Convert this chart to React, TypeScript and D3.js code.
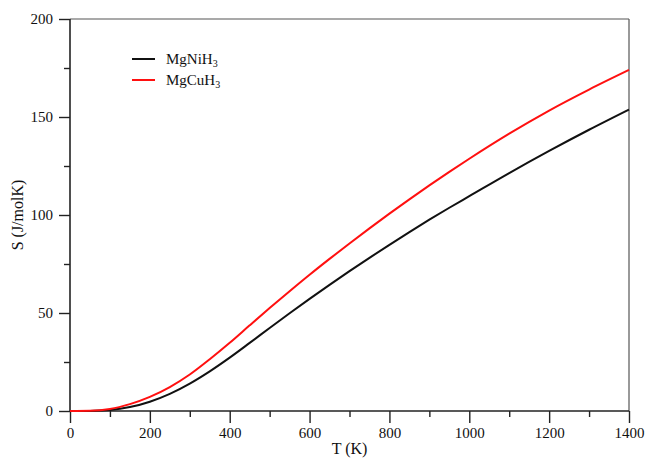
import React, { useEffect, useRef } from 'react';
import * as d3 from 'd3';

// temperatures (K) and entropies (J/molK)
const temps = [0, 50, 100, 150, 200, 250, 300, 350, 400, 450, 500, 550, 600, 650, 700, 750, 800, 850, 900, 950, 1000, 1100, 1200, 1300, 1400];
const sMgNiH3 = [0, 0.05, 0.5, 2.0, 4.75, 8.75, 14.0, 20.25, 27.25, 34.75, 42.35, 49.85, 57.2, 64.35, 71.35, 78.15, 84.8, 91.3, 97.6, 103.7, 109.6, 121.4, 132.7, 143.5, 153.8];
const sMgCuH3 = [0, 0.1, 1.0, 3.5, 7.2, 12.2, 18.6, 26.4, 34.8, 43.7, 52.5, 61.1, 69.5, 77.6, 85.5, 93.2, 100.7, 108, 115.1, 122, 128.7, 141.5, 153.3, 164, 174];

const xMajor = [0, 200, 400, 600, 800, 1000, 1200, 1400];
const xMinor = [100, 300, 500, 700, 900, 1100, 1300];
const yMajor = [0, 50, 100, 150, 200];
const yMinor = [25, 75, 125, 175];

const series = [
  { name: 'MgNiH', sub: '3', values: sMgNiH3, color: '#111111' },
  { name: 'MgCuH', sub: '3', values: sMgCuH3, color: '#ff1010' },
];

export default function App() {
  const ref = useRef<SVGSVGElement>(null);

  useEffect(() => {
    const width = 648;
    const height = 458;
    const margin = { top: 19, left: 70, right: 19, bottom: 47 };
    const svg = d3.select(ref.current);
    svg.selectAll('*').remove();

    const x = d3.scaleLinear().domain([0, 1400]).range([margin.left, width - margin.right]);
    const y = d3.scaleLinear().domain([0, 200]).range([height - margin.bottom, margin.top]);
    const font = '"Liberation Serif", "Times New Roman", serif';

    // frame (top / right)
    svg.append('line')
      .attr('x1', x(0)).attr('x2', x(1400)).attr('y1', y(200)).attr('y2', y(200))
      .attr('stroke', '#555').attr('stroke-width', 1.2);
    svg.append('line')
      .attr('x1', x(1400)).attr('x2', x(1400)).attr('y1', y(200)).attr('y2', y(0))
      .attr('stroke', '#555').attr('stroke-width', 1.2);

    const styleAxis = (g: any) => {
      g.select('.domain').remove();
      g.selectAll('line').attr('stroke', '#222').attr('stroke-width', 1.4);
      g.selectAll('text').attr('font-family', font).attr('font-size', 15).attr('fill', '#111');
    };

    svg.append('g')
      .attr('transform', `translate(0,${y(0)})`)
      .call(d3.axisBottom(x).tickValues(xMajor).tickSize(12).tickPadding(4).tickFormat(d3.format('d')))
      .call(styleAxis);
    svg.append('g')
      .attr('transform', `translate(0,${y(0)})`)
      .call(d3.axisBottom(x).tickValues(xMinor).tickSize(6).tickFormat(() => ''))
      .call(styleAxis);
    svg.append('g')
      .attr('transform', `translate(${x(0)},0)`)
      .call(d3.axisLeft(y).tickValues(yMajor).tickSize(11).tickPadding(6).tickFormat(d3.format('d')))
      .call(styleAxis);
    svg.append('g')
      .attr('transform', `translate(${x(0)},0)`)
      .call(d3.axisLeft(y).tickValues(yMinor).tickSize(6).tickFormat(() => ''))
      .call(styleAxis);

    // axis lines
    svg.append('line')
      .attr('x1', x(0)).attr('x2', x(1400)).attr('y1', y(0)).attr('y2', y(0))
      .attr('stroke', '#222').attr('stroke-width', 1.6);
    svg.append('line')
      .attr('x1', x(0)).attr('x2', x(0)).attr('y1', y(0)).attr('y2', y(200))
      .attr('stroke', '#222').attr('stroke-width', 1.6);

    const line = d3.line<number>()
      .x((d, i) => x(temps[i]))
      .y((d) => y(d))
      .curve(d3.curveMonotoneX);

    series.forEach((s) => {
      svg.append('path')
        .datum(s.values)
        .attr('d', line)
        .attr('fill', 'none')
        .attr('stroke', s.color)
        .attr('stroke-width', 2);
    });

    // legend
    const legend = svg.append('g').attr('transform', 'translate(132,59)');
    series.forEach((s, i) => {
      const row = legend.append('g').attr('transform', `translate(0,${i * 21})`);
      row.append('line').attr('x1', 0).attr('x2', 23).attr('y1', 0).attr('y2', 0)
        .attr('stroke', s.color).attr('stroke-width', 2);
      const t = row.append('text').attr('x', 34).attr('y', 5)
        .attr('font-family', font).attr('font-size', 15).attr('fill', '#111');
      t.append('tspan').text(s.name);
      t.append('tspan').attr('font-size', 10).attr('dy', 3).text(s.sub);
    });

    // axis titles
    svg.append('text')
      .attr('x', (x(0) + x(1400)) / 2).attr('y', 454)
      .attr('text-anchor', 'middle')
      .attr('font-family', font).attr('font-size', 16).attr('fill', '#111')
      .text('T (K)');
    svg.append('text')
      .attr('transform', `translate(23,${(y(0) + y(200)) / 2}) rotate(-90)`)
      .attr('text-anchor', 'middle')
      .attr('font-family', font).attr('font-size', 16).attr('fill', '#111')
      .text('S (J/molK)');
  }, []);

  return (
    <svg ref={ref} width={648} height={458}
      style={{ position: 'absolute', left: 0, top: 0, background: '#fff' }} />
  );
}
